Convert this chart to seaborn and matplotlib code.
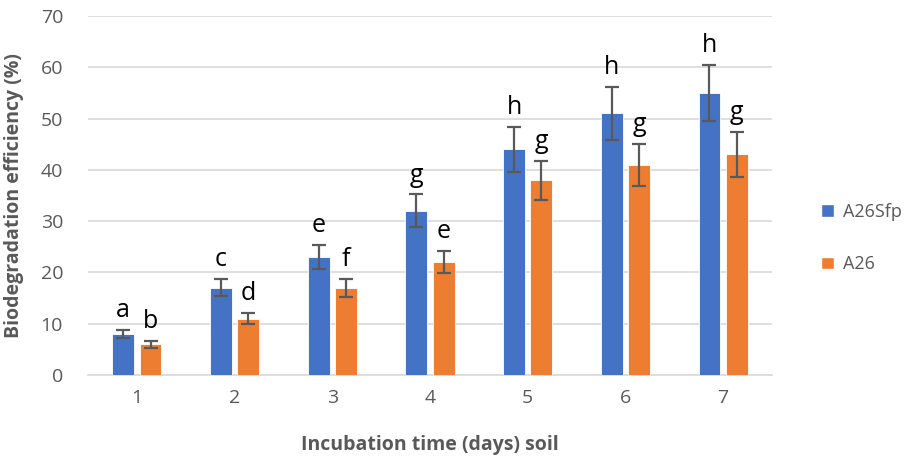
import matplotlib
matplotlib.use("Agg")
import matplotlib.pyplot as plt
import seaborn as sns
import pandas as pd
import numpy as np
from matplotlib.patches import Patch

days = ["1", "2", "3", "4", "5", "6", "7"]
strains = ["A26Sfp", "A26"]
a26sfp_mean = [8, 17, 23, 32, 44, 51, 55]
a26sfp_err = [0.85, 1.65, 2.3, 3.2, 4.4, 5.1, 5.5]
a26sfp_letters = ["a", "c", "e", "g", "h", "h", "h"]
a26_mean = [6, 11, 17, 22, 38, 41, 43]
a26_err = [0.65, 1.1, 1.7, 2.2, 3.8, 4.1, 4.3]
a26_letters = ["b", "d", "f", "e", "g", "g", "g"]

colors = {"A26Sfp": "#4472C4", "A26": "#ED7D31"}
grey = "#595959"

df = pd.DataFrame({
    "day": days * 2,
    "strain": ["A26Sfp"] * len(days) + ["A26"] * len(days),
    "value": a26sfp_mean + a26_mean,
})

sns.set_theme(style="white")
plt.rcParams["font.family"] = ["Open Sans", "DejaVu Sans"]

fig = plt.figure(figsize=(9.05, 4.58), dpi=100)
ax = fig.add_axes([88 / 905, 1 - 375 / 458, 684 / 905, 359 / 458])

sns.barplot(data=df, x="day", y="value", hue="strain", order=days,
            hue_order=strains, palette=colors, width=0.56, gap=0.2,
            errorbar=None, legend=False, ax=ax, saturation=1, zorder=3)

means = {"A26Sfp": a26sfp_mean, "A26": a26_mean}
errs = {"A26Sfp": a26sfp_err, "A26": a26_err}
letters = {"A26Sfp": a26sfp_letters, "A26": a26_letters}
for container, s in zip(ax.containers, strains):
    xs = [p.get_x() + p.get_width() / 2 for p in container.patches]
    for p in container.patches:
        p.set_edgecolor("#ffffff")
        p.set_linewidth(0.6)
    ax.errorbar(xs, means[s], yerr=errs[s], fmt="none", ecolor=grey,
                elinewidth=1.6, capsize=5, capthick=1.6, zorder=4)
    for x, m, e, t in zip(xs, means[s], errs[s], letters[s]):
        ax.annotate(t, (x, m + e), xytext=(0, 5), textcoords="offset points",
                    ha="center", va="bottom", fontsize=18, color="black")

ax.set_ylim(0, 70)
ax.set_xlim(-0.5, 6.5)
ax.set_yticks(np.arange(0, 71, 10))
ax.yaxis.grid(True, color="#D9D9D9", linewidth=1.2, zorder=0)
ax.set_axisbelow(True)
for side in ["top", "right", "left"]:
    ax.spines[side].set_visible(False)
ax.spines["bottom"].set_color("#D9D9D9")
ax.spines["bottom"].set_linewidth(1.2)
ax.tick_params(axis="both", length=0, labelsize=14, labelcolor=grey, pad=10)
ax.tick_params(axis="y", pad=18)

ax.set_ylabel("Biodegradation efficiency (%)", fontsize=14, fontweight="bold",
              color=grey, labelpad=12)
ax.set_xlabel("Incubation time (days) soil", fontsize=14, fontweight="bold",
              color=grey, labelpad=20)

handles = [Patch(facecolor=colors[s], label=s) for s in strains]
fig.legend(handles=handles, loc="center left", bbox_to_anchor=(805 / 905, 1 - 238 / 458),
           frameon=False, fontsize=13, labelspacing=1.9, handlelength=0.7,
           handleheight=0.7, handletextpad=0.5, labelcolor=grey)

fig.savefig("out.png", dpi=100)
